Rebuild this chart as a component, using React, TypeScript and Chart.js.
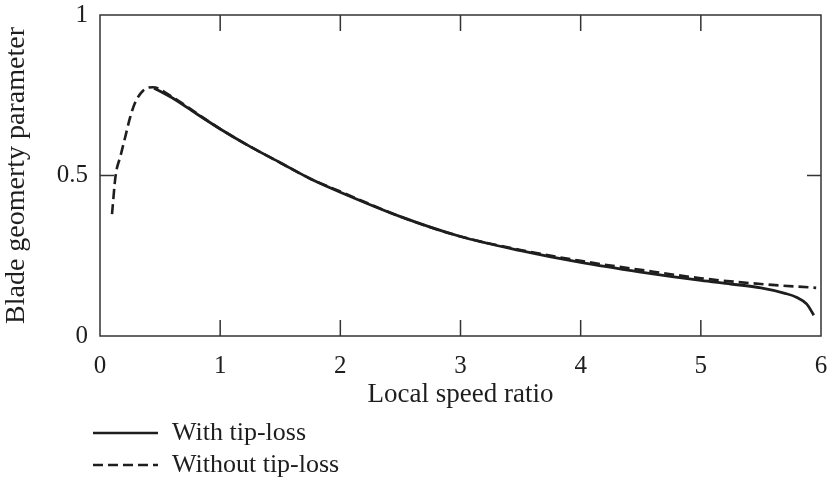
import React, { useEffect, useRef } from "react";
import { Chart, registerables } from "chart.js";

Chart.register(...registerables);

const xTicks = [0, 1, 2, 3, 4, 5, 6];
const yTickLabels: Record<string, string> = { "0": "0", "0.5": "0.5", "1": "1" };

const withTipLossX = [0.45, 0.6, 0.8, 1.0, 1.25, 1.5, 1.75, 2.0, 2.5, 3.0, 3.5, 4.0, 4.5, 5.0, 5.25, 5.5, 5.7, 5.8, 5.88, 5.94];
const withTipLossY = [0.772, 0.742, 0.693, 0.645, 0.59, 0.54, 0.49, 0.448, 0.372, 0.31, 0.266, 0.229, 0.199, 0.173, 0.162, 0.15, 0.133, 0.12, 0.1, 0.065];

const withoutTipLossX = [0.1, 0.13, 0.17, 0.21, 0.25, 0.29, 0.36, 0.44, 0.6, 0.8, 1.0, 1.25, 1.5, 1.75, 2.0, 2.5, 3.0, 3.5, 4.0, 4.5, 5.0, 5.5, 5.96];
const withoutTipLossY = [0.38, 0.5, 0.56, 0.62, 0.68, 0.725, 0.765, 0.775, 0.745, 0.695, 0.645, 0.59, 0.54, 0.49, 0.45, 0.372, 0.31, 0.268, 0.234, 0.206, 0.18, 0.162, 0.15];

const seriesLabels = ["With tip-loss", "Without tip-loss"];
const xTitle = "Local speed ratio";
const yTitle = "Blade geomerty parameter";

const INK = "#1e1e1e";
const FONT = "'Liberation Serif', 'Times New Roman', serif";

const framePlugin = {
  id: "frameTicksLegend",
  afterDatasetsDraw(chart: any) {
    const { ctx, chartArea } = chart;
    const { left, right, top, bottom } = chartArea;
    const xs = chart.scales.x;
    const ys = chart.scales.y;
    ctx.save();
    ctx.strokeStyle = "#333";
    ctx.lineWidth = 1.5;
    ctx.strokeRect(left, top, right - left, bottom - top);
    const tl = 16;
    ctx.beginPath();
    xs.ticks.forEach((t: any) => {
      const px = xs.getPixelForValue(t.value);
      if (Math.abs(px - left) < 2 || Math.abs(px - right) < 2) return;
      ctx.moveTo(px, bottom);
      ctx.lineTo(px, bottom - tl);
      ctx.moveTo(px, top);
      ctx.lineTo(px, top + tl);
    });
    ys.ticks.forEach((t: any) => {
      const py = ys.getPixelForValue(t.value);
      if (Math.abs(py - top) < 2 || Math.abs(py - bottom) < 2) return;
      ctx.moveTo(left, py);
      ctx.lineTo(left + tl - 2, py);
      ctx.moveTo(right, py);
      ctx.lineTo(right - tl + 2, py);
    });
    ctx.stroke();

    // legend
    const base = xs.bottom;
    const rows = [base + 22, base + 54];
    chart.data.datasets.forEach((ds: any, i: number) => {
      const y = rows[i];
      ctx.beginPath();
      ctx.strokeStyle = INK;
      ctx.lineWidth = 2.5;
      ctx.setLineDash(ds.borderDash || []);
      ctx.moveTo(left - 7, y);
      ctx.lineTo(left + 58, y);
      ctx.stroke();
      ctx.setLineDash([]);
      ctx.fillStyle = INK;
      ctx.font = `26px ${FONT}`;
      ctx.textBaseline = "middle";
      ctx.textAlign = "left";
      ctx.fillText(ds.label, left + 72, y);
    });
    ctx.restore();
  },
};

export default function App() {
  const ref = useRef<HTMLCanvasElement | null>(null);
  useEffect(() => {
    if (!ref.current) return;
    const chart = new Chart(ref.current, {
      type: "line",
      data: {
        datasets: [
          {
            label: seriesLabels[0],
            data: withTipLossX.map((x, i) => ({ x, y: withTipLossY[i] })),
            borderColor: INK,
            borderWidth: 2.8,
            pointRadius: 0,
            cubicInterpolationMode: "monotone",
            fill: false,
          },
          {
            label: seriesLabels[1],
            data: withoutTipLossX.map((x, i) => ({ x, y: withoutTipLossY[i] })),
            borderColor: INK,
            borderWidth: 2.6,
            borderDash: [10, 5],
            pointRadius: 0,
            cubicInterpolationMode: "monotone",
            fill: false,
          },
        ],
      },
      options: {
        animation: false,
        responsive: false,
        maintainAspectRatio: false,
        layout: { padding: { top: 15, right: 10, bottom: 78, left: 0 } },
        plugins: { legend: { display: false }, tooltip: { enabled: false } },
        scales: {
          x: {
            type: "linear",
            min: 0,
            max: 6,
            afterBuildTicks: (s: any) => {
              s.ticks = xTicks.map((v) => ({ value: v }));
            },
            afterFit: (s: any) => {
              s.height = 75;
              s.paddingLeft = 0;
              s.paddingRight = 0;
            },
            grid: { display: false, drawTicks: false },
            border: { display: false },
            ticks: {
              padding: 15,
              color: INK,
              font: { family: FONT, size: 25 },
              maxRotation: 0,
              callback: (v: any) => String(v),
            },
            title: {
              display: true,
              text: xTitle,
              color: INK,
              font: { family: FONT, size: 27 },
              padding: 0,
            },
          },
          y: {
            type: "linear",
            min: 0,
            max: 1,
            afterBuildTicks: (s: any) => {
              s.ticks = Object.keys(yTickLabels).map((k) => ({ value: Number(k) }));
            },
            afterFit: (s: any) => {
              s.width = 100;
              s.paddingTop = 0;
              s.paddingBottom = 0;
            },
            grid: { display: false, drawTicks: false },
            border: { display: false },
            ticks: {
              padding: 12,
              color: INK,
              font: { family: FONT, size: 25 },
              callback: (v: any) => yTickLabels[String(v)] ?? "",
            },
            title: {
              display: true,
              text: yTitle,
              color: INK,
              font: { family: FONT, size: 28 },
              padding: 0,
            },
          },
        },
      },
      plugins: [framePlugin],
    } as any);
    return () => chart.destroy();
  }, []);
  return (
    <div style={{ position: "absolute", left: 0, top: 0, width: 831, height: 489, background: "#fff" }}>
      <canvas ref={ref} width={831} height={489} style={{ display: "block" }} />
    </div>
  );
}
